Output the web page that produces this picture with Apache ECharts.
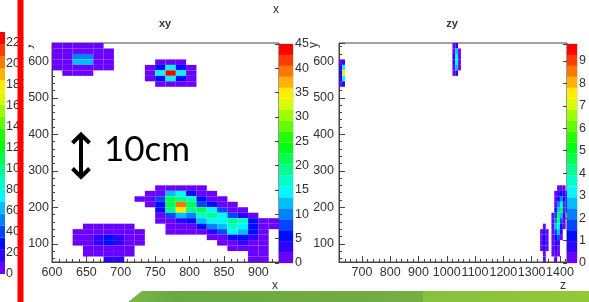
<!DOCTYPE html>
<html>
<head>
<meta charset="UTF-8">
<script src="https://cdn.jsdelivr.net/npm/echarts@6/dist/echarts.min.js"></script>
<style>
    html, body { margin: 0; padding: 0; background: #fff; }
    #chart { width: 589px; height: 302px; }
</style>
</head>
<body>
<div id="chart"></div>
<script>
// 20 contour colours (ROOT rainbow palette, violet -> red)
const palette = ['#6a00ff', '#2f00ff', '#000cff', '#0047ff', '#0083ff', '#00beff', '#00f9ff',
    '#00ffc9', '#00ff8e', '#00ff53', '#00ff17', '#24ff00', '#5fff00', '#9bff00', '#d6ff00',
    '#ffed00', '#ffb200', '#ff7700', '#ff3b00', '#ff0000'];

// ---- xy histogram: x bins of 15 from 600, y bins of 15 from 50 ----
const xyBinX = [600, 15];
const xyBinY = [50, 15];
const xyMax = 45;
const xyXTicks = [600, 650, 700, 750, 800, 850, 900];
const yTicks = [100, 200, 300, 400, 500, 600];
// rows: [yBin, first xBin, counts...]
const xyBlobTopLeft = [
    [39, 0, [1, 1, 1, 1, 1]],
    [38, 0, [1, 1, 2, 2, 1, 1]],
    [37, 0, [1, 1, 9, 9, 1, 1]],
    [36, 0, [1, 1, 13, 13, 1, 1]],
    [35, 0, [1, 1, 1, 1, 1, 1]],
    [34, 1, [1, 1, 1]]
];
const xyBlobTopMid = [
    [36, 10, [1, 1, 1]],
    [35, 9, [1, 6, 14, 6, 1]],
    [34, 9, [1, 14, 44, 14, 1]],
    [33, 9, [1, 6, 14, 6, 1]],
    [32, 10, [1, 1, 1, 1]]
];
const xyBlobBottomLeft = [
    [6, 3, [1, 1, 1, 1, 1]],
    [5, 2, [1, 1, 1, 1, 1, 1, 1]],
    [4, 2, [1, 1, 4, 6, 4, 1, 1]],
    [3, 2, [1, 1, 4, 6, 4, 1, 1]],
    [2, 3, [1, 1, 1, 1, 1]],
    [1, 3, [1, 1, 1, 1, 1]],
    [0, 5, [3, 3]]
];
const xyTrack = [
    [13, 10, [1, 1, 1, 1, 1]],
    [12, 9, [1, 1, 12, 14, 5, 1, 1]],
    [11, 8, [1, 1, 8, 21, 20, 16, 6, 1, 1]],
    [10, 9, [1, 6, 22, 39, 21, 8, 5, 1, 1]],
    [9, 10, [5, 18, 35, 20, 21, 14, 8, 2, 1]],
    [8, 10, [2, 8, 13, 11, 16, 18, 15, 7, 3, 1]],
    [7, 10, [1, 1, 4, 6, 12, 15, 14, 20, 17, 6, 1, 1]],
    [6, 11, [1, 1, 2, 5, 10, 13, 16, 15, 6, 1, 1]],
    [5, 11, [1, 1, 1, 2, 4, 7, 14, 13, 5, 1]],
    [4, 15, [1, 2, 5, 6, 3, 1]],
    [3, 16, [1, 2, 3, 2, 1]],
    [2, 17, [1, 1, 1, 1]],
    [1, 19, [1, 1]],
    [0, 19, [1, 1]]
];

// ---- zy histogram: z bins of 10 from 620, y bins of 15 from 50 ----
const zyBinX = [620, 10];
const zyBinY = [50, 15];
const zyMax = 9.75;
const zTicks = [700, 800, 900, 1000, 1100, 1200, 1300, 1400];
const zyBlobLeft = [
    [36, 0, [0.3, 0.7]],
    [35, 0, [0.7, 3.0]],
    [34, 0, [1.2, 7.5]],
    [33, 0, [0.7, 3.0]],
    [32, 0, [0.3, 1.2]]
];
const zyBlobTop = [
    [39, 40, [0.3, 0.7]],
    [38, 40, [0.3, 2.6, 0.3]],
    [37, 40, [0.7, 3.0, 0.3]],
    [36, 40, [0.7, 3.0, 0.3]],
    [35, 40, [0.3, 2.6, 0.3]],
    [34, 40, [0.3, 0.7]]
];
const zyTrackA = [
    [6, 72, [0.3]],
    [5, 71, [0.3, 0.7, 0.3]],
    [4, 71, [0.3, 1.2, 0.3]],
    [3, 71, [0.3, 1.2, 0.3]],
    [2, 71, [0.3, 0.7, 0.3]],
    [1, 72, [0.3]],
    [0, 72, [0.3]]
];
const zyTrackB = [
    [13, 77, [0.3, 0.3, 0.3]],
    [12, 76, [0.3, 0.7, 1.2, 0.7, 0.3]],
    [11, 76, [0.3, 1.2, 2.2, 1.2, 0.3]],
    [10, 76, [0.3, 2.0, 3.6, 1.5, 0.3]],
    [9, 76, [0.7, 2.6, 4.6, 1.5, 0.3]],
    [8, 75, [0.3, 1.5, 4.4, 2.6, 0.7]],
    [7, 75, [0.3, 2.2, 4.2, 1.5, 0.3]],
    [6, 75, [0.3, 2.6, 3.4, 1.2, 0.3]],
    [5, 75, [0.3, 1.5, 2.6, 0.7]],
    [4, 75, [0.3, 1.2, 1.5, 0.3]],
    [3, 75, [0.3, 0.7, 0.7]],
    [2, 75, [0.3, 0.7, 0.3]],
    [1, 75, [0.3, 0.3, 0.3]],
    [0, 76, [0.3]]
];

// scale of the cut-off colour bar at the left edge
const sideBarMax = 230;

// ---- helpers ----
function expand(rows, binX, binY) {
    const out = [];
    rows.forEach(([row, col, vals]) => {
        vals.forEach((v, i) => out.push([binX[0] + (col + i) * binX[1], binY[0] + row * binY[1], v]));
    });
    return out;
}

function cellItem(binX, binY) {
    return function (params, api) {
        const x = api.value(0), y = api.value(1);
        const p0 = api.coord([x, y + binY[1]]);
        const p1 = api.coord([x + binX[1], y]);
        const cs = params.coordSys;
        const r = echarts.graphic.clipRectByRect(
            {x: p0[0], y: p0[1], width: p1[0] - p0[0], height: p1[1] - p0[1]},
            {x: cs.x, y: cs.y, width: cs.width, height: cs.height});
        return r && {type: 'rect', shape: r, style: {fill: api.visual('color')}};
    };
}

function barItem(max) {
    const step = max / palette.length;
    return function (params, api) {
        const i = api.value(0);
        const p0 = api.coord([0, (i + 1) * step]);
        const p1 = api.coord([1, i * step]);
        return {type: 'rect', shape: {x: p0[0], y: p0[1], width: p1[0] - p0[0], height: p1[1] - p0[1]},
            style: {fill: palette[i]}};
    };
}

function levelPieces(max) {
    const step = max / palette.length;
    return palette.map((c, i) => ({gte: i * step, lt: (i + 1) * step + (i === palette.length - 1 ? 1 : 0), color: c}));
}

const levelData = palette.map((c, i) => [i]);
const font = {color: '#333', fontSize: 12.5, fontFamily: 'Liberation Sans'};
const lineCol = '#444';

function frameAxis(extra) {
    return Object.assign({
        type: 'value',
        axisLine: {show: true, onZero: false, lineStyle: {color: lineCol}},
        axisTick: {show: true, inside: true, length: 6, lineStyle: {color: lineCol}},
        minorTick: {show: true, splitNumber: 5, length: 3, lineStyle: {color: lineCol}},
        splitLine: {show: false}
    }, extra);
}

function barAxis(gridIndex, max, interval, labels, margin) {
    return {
        gridIndex: gridIndex, type: 'value', position: 'right', min: 0, max: max, interval: interval,
        axisLine: {show: false},
        axisTick: {show: true, inside: true, length: 4, lineStyle: {color: lineCol}},
        splitLine: {show: false},
        axisLabel: Object.assign({}, font, {margin: margin, formatter: v => labels.includes(v) ? String(v) : ''})
    };
}

const hiddenX = i => ({gridIndex: i, type: 'value', min: 0, max: 1, show: false});
const xyBarLabels = [0, 5, 10, 15, 20, 25, 30, 35, 40, 45];
const zyBarLabels = [0, 1, 2, 3, 4, 5, 6, 7, 8, 9];
const sideBarLabels = [0, 20, 40, 60, 80, 100, 120, 140, 160, 180, 200, 220];

const chart = echarts.init(document.getElementById('chart'));

chart.setOption({
    animation: false,
    backgroundColor: '#fff',
    grid: [
        {left: 52, top: 43, width: 227, height: 219, show: true, borderColor: lineCol, borderWidth: 1},
        {left: 279, top: 44, width: 14, height: 219, show: true, borderColor: '#888', borderWidth: 0.5},
        {left: 339, top: 43, width: 228, height: 219, show: true, borderColor: lineCol, borderWidth: 1},
        {left: 567, top: 44, width: 14, height: 219, show: true, borderColor: '#888', borderWidth: 0.5},
        {left: -9, top: 32, width: 14, height: 242}
    ],
    xAxis: [
        frameAxis({gridIndex: 0, min: 600, max: 930, interval: 50,
            axisLabel: Object.assign({}, font, {margin: 4, formatter: v => xyXTicks.includes(v) ? String(v) : ''})}),
        hiddenX(1),
        frameAxis({gridIndex: 2, min: 619, max: 1425, splitNumber: 8,
            axisLabel: Object.assign({}, font, {margin: 4, formatter: v => zTicks.includes(v) ? String(v) : ''})}),
        hiddenX(3),
        hiddenX(4)
    ],
    yAxis: [
        frameAxis({gridIndex: 0, min: 50, max: 650, splitNumber: 6,
            axisLabel: Object.assign({}, font, {margin: 3, formatter: v => yTicks.includes(v) ? String(v) : ''})}),
        barAxis(1, xyMax, 5, xyBarLabels, 2),
        frameAxis({gridIndex: 2, min: 50, max: 650, splitNumber: 6,
            axisLabel: Object.assign({}, font, {margin: 5, formatter: v => yTicks.includes(v) ? String(v) : ''})}),
        barAxis(3, zyMax, 1, zyBarLabels, 2),
        barAxis(4, sideBarMax, 20, sideBarLabels, 1)
    ],
    visualMap: [
        {type: 'piecewise', show: false, seriesIndex: 0, dimension: 2, pieces: levelPieces(xyMax)},
        {type: 'piecewise', show: false, seriesIndex: 2, dimension: 2, pieces: levelPieces(zyMax)}
    ],
    series: [
        {type: 'custom', xAxisIndex: 0, yAxisIndex: 0, renderItem: cellItem(xyBinX, xyBinY),
            data: expand([].concat(xyBlobTopLeft, xyBlobTopMid, xyBlobBottomLeft, xyTrack), xyBinX, xyBinY)},
        {type: 'custom', xAxisIndex: 1, yAxisIndex: 1, renderItem: barItem(xyMax), data: levelData},
        {type: 'custom', xAxisIndex: 2, yAxisIndex: 2, renderItem: cellItem(zyBinX, zyBinY),
            data: expand([].concat(zyBlobLeft, zyBlobTop, zyTrackA, zyTrackB), zyBinX, zyBinY)},
        {type: 'custom', xAxisIndex: 3, yAxisIndex: 3, renderItem: barItem(zyMax), data: levelData},
        {type: 'custom', xAxisIndex: 4, yAxisIndex: 4, renderItem: barItem(sideBarMax), data: levelData}
    ]
});

// labels of the plot above, cut off by the top edge
const cutLabels = xyXTicks.map(v => ({
    type: 'text', x: chart.convertToPixel({xAxisIndex: 0}, v), y: -4, z: 50,
    style: {text: String(v), fill: '#aaa', font: '12.5px Liberation Sans', align: 'center', verticalAlign: 'middle'}
}));

const txt = (text, x, y, opts) => Object.assign({
    type: 'text', x: x, y: y, z: 60,
    style: Object.assign({text: text, fill: '#333', font: '12px Liberation Sans', align: 'center', verticalAlign: 'middle'},
        (opts && opts.style) || {})
}, opts && opts.rotation ? {rotation: opts.rotation} : {});

chart.setOption({
    graphic: cutLabels.concat([
        txt('300', 425, -4, {style: {fill: '#aaa', font: '12.5px Liberation Sans'}}),
        txt('x', 276, 10),
        txt('xy', 165, 24, {style: {font: 'bold 11px Liberation Sans'}}),
        txt('zy', 452, 24, {style: {font: 'bold 11px Liberation Sans'}}),
        txt('x', 275, 286),
        txt('z', 563, 286),
        // cover the cut edge of the side colour bar labels
        {type: 'rect', z: 70, shape: {x: 23.5, y: 0, width: 5, height: 302}, style: {fill: '#fff'}},
        {type: 'rect', z: 80, shape: {x: 17.5, y: 0, width: 6, height: 302}, style: {fill: '#ff0000'}},
        txt('y', 27.5, 46, {rotation: Math.PI / 2, style: {font: '12px Liberation Sans'}}),
        txt('y', 314, 45, {rotation: Math.PI / 2, style: {font: '12px Liberation Sans'}}),
        // 10 cm scale marker
        {type: 'polyline', z: 60, shape: {points: [[72.5, 143], [81, 134.5], [89.5, 143]]},
            style: {stroke: '#000', lineWidth: 4, fill: null}},
        {type: 'line', z: 60, shape: {x1: 81, y1: 136, x2: 81, y2: 176}, style: {stroke: '#000', lineWidth: 4}},
        {type: 'polyline', z: 60, shape: {points: [[72.5, 168.5], [81, 177], [89.5, 168.5]]},
            style: {stroke: '#000', lineWidth: 4, fill: null}},
        {type: 'text', z: 60, x: 104, y: 150,
            style: {text: '10cm', fill: '#000', font: '35px Lato', align: 'left', verticalAlign: 'middle'}},
        // green slide band at the bottom
        {type: 'polygon', z: 60, shape: {points: [[128, 302], [142, 291], [425, 291], [425, 302]]},
            style: {fill: new echarts.graphic.LinearGradient(0, 0, 1, 0, [
                {offset: 0, color: '#7cb84a'}, {offset: 0.15, color: '#6aa842'}, {offset: 1, color: '#74ae43'}])}},
        {type: 'rect', z: 60, shape: {x: 423, y: 291, width: 166, height: 11},
            style: {fill: new echarts.graphic.LinearGradient(0, 0, 1, 0, [
                {offset: 0, color: '#86c03e'}, {offset: 1, color: '#93c83a'}])}}
    ])
});
</script>
</body>
</html>
